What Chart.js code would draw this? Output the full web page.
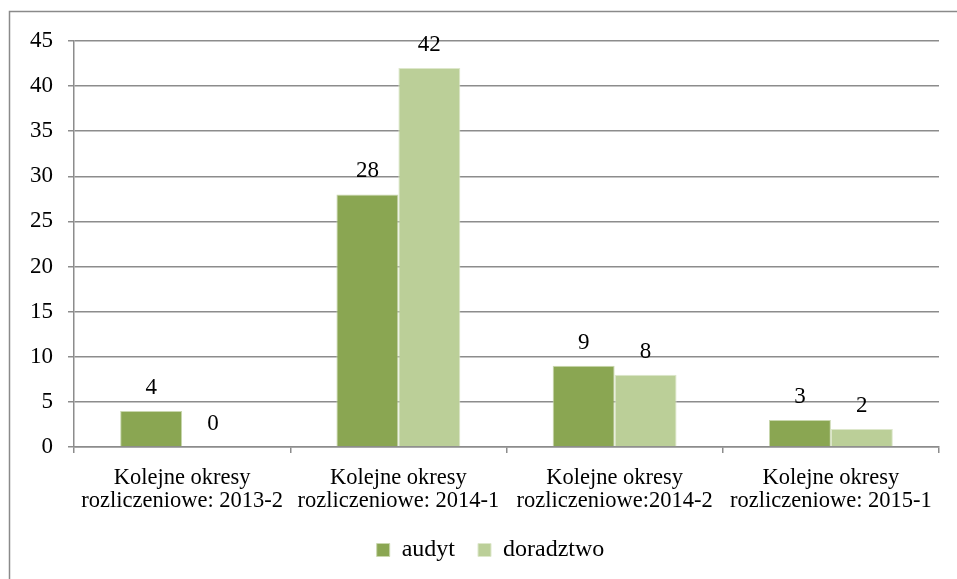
<!DOCTYPE html>
<html>
<head>
<meta charset="utf-8">
<script src="https://cdn.jsdelivr.net/npm/chart.js@4"></script>
<style>
  html, body { margin: 0; padding: 0; background: #ffffff; }
  #wrap { position: relative; width: 957px; height: 579px; }
</style>
</head>
<body>
<div id="wrap"><canvas id="c" width="957" height="579"></canvas></div>
<script>
// Billing periods
const categories = [
  ['Kolejne okresy', 'rozliczeniowe: 2013-2'],
  ['Kolejne okresy', 'rozliczeniowe: 2014-1'],
  ['Kolejne okresy', 'rozliczeniowe:2014-2'],
  ['Kolejne okresy', 'rozliczeniowe: 2015-1']
];
const seriesNames = ['audyt', 'doradztwo'];
const audytValues = [4, 28, 9, 3];
const doradztwoValues = [0, 42, 8, 2];
const yTicks = [0, 5, 10, 15, 20, 25, 30, 35, 40, 45];

const FONT_FAMILY = '"Liberation Serif", serif';
const TICK_SIZE = 23;
const CAT_SIZE = 22.5;
const LEGEND_SIZE = 24;
const GRID = '#8c8c8c';

// Outer frame around the whole chart
const framePlugin = {
  id: 'frame',
  beforeDraw(chart) {
    const ctx = chart.ctx;
    ctx.save();
    ctx.fillStyle = '#ffffff';
    ctx.fillRect(0, 0, chart.width, chart.height);
    ctx.strokeStyle = '#8a8a8a';
    ctx.lineWidth = 1.5;
    ctx.strokeRect(9.5, 11.5, 2000, 2000);
    ctx.restore();
  }
};

// Legend: fixed band height, nudged toward the centre of the plot
const legendPlacement = {
  id: 'legendPlacement',
  beforeLayout(chart) {
    const lg = chart.legend;
    if (lg && !lg.__fixedFit) {
      const fit = lg.fit.bind(lg);
      lg.fit = function () { fit(); if (this.isHorizontal()) this.height = 47; };
      lg.__fixedFit = true;
    }
  },
  afterLayout(chart) {
    const lg = chart.legend;
    if (!lg) return;
    lg.top -= 17; lg.bottom -= 17;
    lg.left += 21; lg.right += 21;
  }
};

// Value labels above each bar
const valueLabels = {
  id: 'valueLabels',
  afterDatasetsDraw(chart) {
    const ctx = chart.ctx;
    ctx.save();
    ctx.font = TICK_SIZE + 'px ' + FONT_FAMILY;
    ctx.fillStyle = '#000000';
    ctx.textAlign = 'center';
    ctx.textBaseline = 'alphabetic';
    chart.data.datasets.forEach((ds, i) => {
      const meta = chart.getDatasetMeta(i);
      meta.data.forEach((bar, j) => {
        ctx.fillText(String(ds.data[j]), bar.x, bar.y - 17);
      });
    });
    ctx.restore();
  }
};

new Chart(document.getElementById('c'), {
  type: 'bar',
  data: {
    labels: categories,
    datasets: [
      {
        label: seriesNames[0],
        data: audytValues,
        backgroundColor: '#8aa652',
        borderColor: '#c9d7ae',
        borderWidth: 1,
        categoryPercentage: 0.573,
        barPercentage: 1
      },
      {
        label: seriesNames[1],
        data: doradztwoValues,
        backgroundColor: '#bbcf98',
        borderColor: '#dde7cb',
        borderWidth: 1,
        categoryPercentage: 0.573,
        barPercentage: 1
      }
    ]
  },
  options: {
    responsive: false,
    animation: false,
    devicePixelRatio: 1,
    layout: { padding: { left: 0, top: 41, right: 18, bottom: 0 } },
    plugins: {
      legend: {
        position: 'bottom',
        labels: {
          boxWidth: 13,
          boxHeight: 13,
          padding: 23,
          color: '#000000',
          font: { family: FONT_FAMILY, size: LEGEND_SIZE }
        }
      },
      tooltip: { enabled: false }
    },
    scales: {
      x: {
        offset: true,
        grid: {
          offset: true,
          drawOnChartArea: false,
          drawTicks: true,
          tickLength: 6,
          color: GRID,
          lineWidth: 1.5
        },
        border: { color: GRID, width: 1.5 },
        ticks: {
          color: '#000000',
          padding: 14,
          maxRotation: 0,
          autoSkip: false,
          font: { family: FONT_FAMILY, size: CAT_SIZE, lineHeight: '23px' }
        },
        afterFit(scale) { scale.height = 85; }
      },
      y: {
        min: 0,
        max: 45,
        afterBuildTicks(scale) { scale.ticks = yTicks.map(v => ({ value: v })); },
        grid: {
          color: GRID,
          lineWidth: 1.5,
          tickLength: 6
        },
        border: { color: GRID, width: 1.5 },
        ticks: {
          color: '#000000',
          padding: 15,
          font: { family: FONT_FAMILY, size: TICK_SIZE }
        },
        afterFit(scale) { scale.width = 74; }
      }
    }
  },
  plugins: [framePlugin, legendPlacement, valueLabels]
});
</script>
</body>
</html>
